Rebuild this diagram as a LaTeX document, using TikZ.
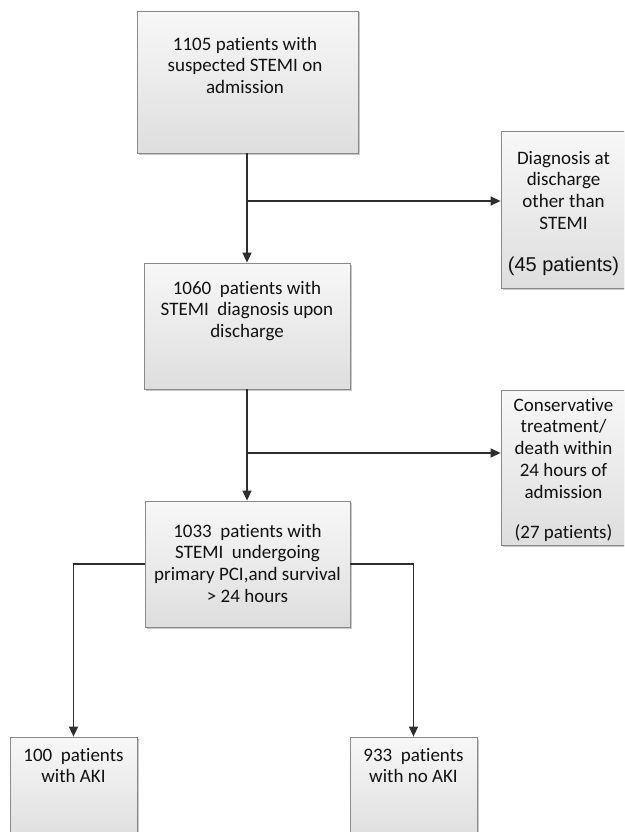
\documentclass[tikz,border=0pt]{standalone}
\usepackage{fontspec}
\setmainfont{Carlito}[Ligatures=NoCommon]
\newfontfamily\arialf{Liberation Sans}
\usetikzlibrary{arrows.meta,shadows}
\definecolor{boxline}{HTML}{8A8A8A}
\definecolor{linecol}{HTML}{2E2E2E}
\definecolor{txtcol}{HTML}{111111}
\newcommand{\mystrut}{\rule{0pt}{14pt}}
\tikzset{
  box/.style={draw=boxline, line width=0.8pt, inner sep=0pt, top color=white!97!black, bottom color=white!87!black,
    drop shadow={shadow xshift=1.5pt, shadow yshift=-1.5pt, fill=black!35, opacity=0.6}},
  txt/.style={anchor=north, inner sep=0pt, align=center, text=txtcol, font=\fontsize{19pt}{21.7pt}\selectfont},
  conn/.style={draw=linecol, line width=1.3pt},
  arr/.style={conn, -{Triangle[length=10pt,width=9pt]}}
}
\begin{document}
\begin{tikzpicture}[x=1pt,y=-1pt]
\useasboundingbox (0,0) rectangle (624,832);
\clip (0,0) rectangle (624,832);
\fill[white] (0,0) rectangle (624,832);
% boxes
\node[box, minimum width=221pt, minimum height=142pt] (b1) at (247.5,82) {};
\node[box, minimum width=125pt, minimum height=157pt] (b2) at (563.5,209.5) {};
\node[box, minimum width=206pt, minimum height=126pt] (b3) at (247,326) {};
\node[box, minimum width=125pt, minimum height=155pt] (b4) at (563.5,467.5) {};
\node[box, minimum width=205pt, minimum height=126pt] (b5) at (247.5,564) {};
\node[box, minimum width=127pt, minimum height=106pt] (b6) at (73.5,790) {};
\node[box, minimum width=127pt, minimum height=106pt] (b7) at (413.5,790) {};
% texts
\node[txt] (t1) at (245,36) {\mystrut 1105 patients with\\suspected STEMI on\\admission};
\node[txt] (t2) at (563.5,150) {\mystrut Diagnosis at\\discharge\\other than\\STEMI\\[20pt]{\arialf\fontsize{20pt}{21.7pt}\selectfont (45 patients)}};
\node[txt] (t3) at (247,280) {\mystrut 1060\ \ patients with\\STEMI\ \ diagnosis upon\\discharge};
\node[txt] (t4) at (563.5,397) {\mystrut Conservative\\treatment/\\death within\\24 hours of\\admission\\[19pt](27 patients)};
\node[txt] (t5) at (247.5,523) {\mystrut 1033\ \ patients with\\STEMI\ \ undergoing\\primary PCI,and survival\\> 24 hours};
\node[txt] (t6) at (73.5,747) {\mystrut 100\ \ patients\\with AKI};
\node[txt] (t7) at (413.5,747) {\mystrut 933\ \ patients\\with no AKI};
% connectors
\coordinate (j1) at (247,201);
\coordinate (j2) at (247,453);
\draw[arr] (b1.south -| j1) -- (b3.north -| j1);
\draw[arr] (j1) -- (j1 -| b2.west);
\draw[arr] (b3.south -| j2) -- (b5.north -| j2);
\draw[arr] (j2) -- (j2 -| b4.west);
\draw[arr] (b5.west) -| (b6.north);
\draw[arr] (b5.east) -| (b7.north);
\end{tikzpicture}
\end{document}
